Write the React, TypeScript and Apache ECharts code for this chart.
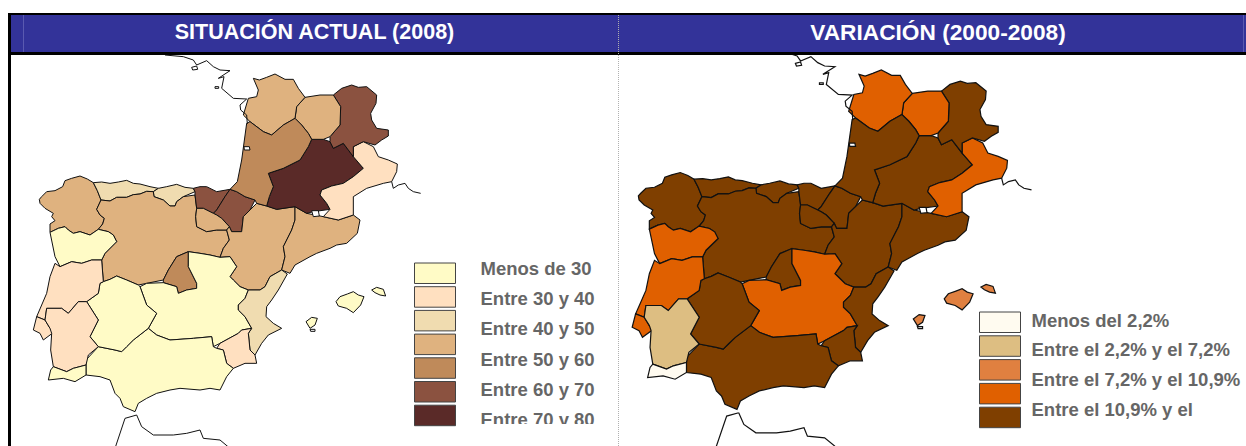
import React, { useEffect, useRef } from "react";
import * as echarts from "echarts";

type Pt = number[];

// Outlines (units: one third of a screen pixel)
const galicia: Pt[] = [[118,598],[125,590],[140,575],[165,572],[188,560],[195,542],[215,535],[240,528],[262,537],[280,548],[292,572],[303,600],[290,628],[300,645],[313,655],[308,672],[295,688],[270,705],[240,695],[220,700],[205,690],[195,680],[175,685],[150,697],[150,672],[165,662],[155,650],[160,640],[135,625],[120,610]];
const asturias: Pt[] = [[280,548],[305,546],[330,550],[355,546],[380,541],[400,550],[420,552],[450,560],[475,565],[460,575],[440,574],[420,582],[400,584],[380,592],[350,592],[330,603],[303,600],[292,572]];
const cantabria: Pt[] = [[475,565],[500,560],[530,553],[555,562],[580,565],[585,575],[550,590],[530,605],[525,618],[510,618],[490,600],[462,590],[460,575]];
const castillaLeon: Pt[] = [[303,600],[330,603],[350,592],[380,592],[400,584],[420,582],[440,574],[460,575],[462,590],[490,600],[510,618],[525,618],[530,605],[550,590],[585,585],[590,625],[587,650],[590,680],[620,695],[650,690],[680,690],[688,720],[670,745],[660,772],[630,765],[600,760],[565,755],[530,770],[505,810],[490,840],[465,845],[440,850],[415,855],[380,840],[350,828],[330,838],[310,845],[305,780],[315,760],[350,725],[340,705],[325,695],[295,688],[308,672],[313,655],[300,645],[290,628]];
const euskadi: Pt[] = [[580,565],[600,560],[620,560],[650,575],[690,568],[675,590],[650,630],[640,640],[610,625],[590,625],[585,585],[585,575]];
const navarra: Pt[] = [[690,568],[710,575],[735,590],[765,600],[750,630],[730,650],[725,695],[695,695],[688,680],[665,655],[650,645],[640,640],[650,630],[675,590]];
const rioja: Pt[] = [[590,625],[610,625],[640,640],[650,645],[665,655],[688,680],[680,690],[650,690],[620,695],[590,680],[587,650]];
const aragon: Pt[] = [[725,695],[730,650],[750,630],[770,610],[800,618],[830,628],[885,620],[885,660],[875,690],[850,740],[855,770],[845,810],[810,830],[795,860],[780,870],[745,870],[720,860],[700,840],[690,830],[710,800],[690,770],[660,772],[670,745],[688,720],[680,690],[688,680],[695,695]];
const cataluna: Pt[] = [[885,620],[920,640],[970,650],[1015,660],[1060,645],[1080,660],[1072,700],[1040,730],[1010,735],[990,745],[950,760],[930,770],[885,795],[870,820],[845,810],[855,770],[850,740],[875,690],[885,660]];
const midiPyrenees: Pt[] = [[935,418],[970,418],[990,425],[1000,445],[1030,430],[1045,450],[1060,470],[1090,505],[1060,530],[1030,550],[995,558],[965,570],[960,585],[980,610],[990,628],[940,635],[920,640],[885,620],[830,628],[800,618],[808,590],[820,560],[805,520],[850,505],[900,480],[925,440]];
const languedoc: Pt[] = [[1060,440],[1090,425],[1120,440],[1135,470],[1165,480],[1192,492],[1190,515],[1175,545],[1150,550],[1100,565],[1060,590],[1060,645],[1015,660],[970,650],[990,628],[980,610],[960,585],[965,570],[995,558],[1030,550],[1060,530],[1090,505],[1060,470]];
const rhoneAlpes: Pt[] = [[1000,285],[1025,265],[1055,255],[1075,262],[1100,260],[1130,285],[1128,310],[1112,340],[1115,360],[1130,385],[1165,390],[1165,408],[1145,420],[1125,435],[1090,425],[1060,440],[1060,470],[1045,450],[1030,430],[1000,445],[990,425],[990,410],[1020,375],[1022,320]];
const limousin: Pt[] = [[915,292],[960,285],[1000,285],[1022,320],[1020,375],[990,410],[970,418],[935,418],[925,400],[905,375],[885,355],[890,320]];
const poitou: Pt[] = [[760,235],[778,240],[800,232],[825,222],[855,238],[880,238],[895,265],[915,292],[890,320],[885,355],[850,375],[815,405],[790,395],[750,365],[730,345],[745,295],[770,290],[775,270]];
const aquitaine: Pt[] = [[740,370],[750,365],[790,395],[815,405],[850,375],[885,355],[905,375],[925,400],[935,418],[925,440],[900,480],[850,505],[805,520],[820,560],[808,590],[800,618],[770,610],[765,600],[735,590],[710,575],[690,568],[712,545],[725,480]];
const madrid: Pt[] = [[530,770],[565,755],[565,800],[590,850],[590,865],[560,870],[535,880],[530,860],[490,848],[490,840],[505,810]];
const laMancha: Pt[] = [[565,755],[600,760],[630,765],[660,772],[690,770],[710,800],[690,830],[700,840],[720,860],[745,870],[735,895],[715,915],[715,930],[735,950],[755,985],[725,990],[715,1000],[660,1030],[640,1040],[635,1010],[580,1015],[510,1020],[470,1005],[445,985],[470,940],[440,915],[420,860],[440,850],[490,848],[530,860],[535,880],[560,870],[590,865],[590,850],[565,800]];
const valencia: Pt[] = [[780,870],[795,860],[810,830],[845,810],[862,822],[835,870],[815,900],[800,920],[798,950],[820,970],[845,985],[805,1005],[785,1030],[765,1065],[750,1050],[745,1000],[755,985],[735,950],[715,930],[715,915],[735,895],[745,870]];
const murcia: Pt[] = [[725,990],[755,985],[745,1000],[750,1050],[765,1065],[770,1090],[735,1090],[700,1105],[680,1090],[670,1050],[650,1045],[660,1030],[715,1000]];
const andalucia: Pt[] = [[445,985],[470,1005],[510,1020],[580,1015],[635,1010],[640,1040],[650,1045],[670,1050],[680,1090],[700,1105],[680,1130],[660,1170],[630,1165],[600,1170],[540,1165],[510,1170],[470,1180],[440,1195],[415,1210],[405,1235],[370,1220],[360,1195],[345,1180],[330,1140],[300,1130],[258,1125],[258,1080],[295,1040],[345,1050],[365,1055],[380,1040],[400,1020]];
const extremadura: Pt[] = [[350,828],[380,840],[415,855],[420,860],[440,915],[470,940],[445,985],[400,1020],[380,1040],[365,1055],[345,1050],[295,1040],[270,1010],[295,960],[260,905],[295,880],[300,850],[310,845],[330,838]];
const norte: Pt[] = [[150,697],[175,685],[195,680],[205,690],[220,700],[240,695],[270,705],[295,688],[325,695],[340,705],[350,725],[315,760],[305,780],[275,780],[245,790],[215,785],[180,800],[165,770]];
const centro: Pt[] = [[180,800],[215,785],[245,790],[275,780],[305,780],[310,845],[300,850],[295,880],[260,905],[235,905],[205,940],[185,925],[140,925],[135,960],[110,950],[125,915],[140,880],[150,830],[165,790]];
const lisboa: Pt[] = [[110,950],[135,960],[150,985],[178,985],[150,1005],[130,1020],[120,1000],[100,990]];
const alentejo: Pt[] = [[140,925],[185,925],[205,940],[235,905],[260,905],[295,960],[270,1010],[295,1040],[265,1065],[258,1095],[220,1105],[200,1115],[160,1100],[152,1050],[155,1000],[150,985],[135,960]];
const algarve: Pt[] = [[160,1100],[200,1115],[220,1105],[258,1095],[258,1125],[225,1145],[190,1135],[145,1140],[152,1110]];
const mallorca: Pt[] = [[1008,905],[1020,890],[1042,882],[1060,875],[1075,885],[1092,890],[1082,915],[1060,938],[1040,925],[1015,918]];
const menorca: Pt[] = [[1115,870],[1130,862],[1150,868],[1157,888],[1140,885],[1125,878]];
const ibiza: Pt[] = [[918,965],[935,952],[952,955],[945,975],[930,985]];
const formentera: Pt[] = [[930,988],[945,988],[945,994],[932,994]];
const andorra: Pt[] = [[935,632],[955,632],[958,648],[940,650]];
const lake: Pt[] = [[732,440],[748,440],[750,450],[733,450]];
const islet1: Pt[] = [[575,202],[590,198],[593,208],[578,210]];
const islet2: Pt[] = [[645,260],[656,260],[656,265],[645,265]];

const atlanticCoast: Pt[] = [[495,165],[550,170],[580,180],[590,195],[620,182],[640,200],[660,210],[690,212],[655,235],[672,230],[665,265],[700,295],[740,297],[720,315],[722,330],[740,345],[742,372]];
const gulfCoast: Pt[] = [[1175,545],[1180,565],[1195,555],[1215,550],[1225,565],[1240,575],[1262,580]];
const ceutaLine: Pt[] = [[345,1345],[375,1255],[410,1245]];
const moroccoCoast: Pt[] = [[410,1245],[425,1280],[460,1305],[520,1305],[560,1300],[600,1290],[610,1315],[660,1320],[690,1345]];

const regionOutlines: [string, Pt[]][] = [
  ["Galicia", galicia], ["Asturias", asturias], ["Cantabria", cantabria], ["Castilla y León", castillaLeon],
  ["País Vasco", euskadi], ["Navarra", navarra], ["La Rioja", rioja], ["Aragón", aragon], ["Cataluña", cataluna],
  ["Midi-Pyrénées", midiPyrenees], ["Languedoc", languedoc], ["Rhône-Alpes", rhoneAlpes], ["Limousin", limousin],
  ["Poitou", poitou], ["Aquitaine", aquitaine], ["Madrid", madrid], ["Castilla-La Mancha", laMancha],
  ["Valencia", valencia], ["Murcia", murcia], ["Andalucía", andalucia], ["Extremadura", extremadura],
  ["Norte", norte], ["Centro", centro], ["Lisboa", lisboa], ["Alentejo", alentejo], ["Algarve", algarve],
  ["Mallorca", mallorca], ["Menorca", menorca], ["Ibiza", ibiza], ["Formentera", formentera],
  ["Andorra", andorra], ["Lago", lake], ["Islote 1", islet1], ["Islote 2", islet2],
];
const coastLines: [string, Pt[]][] = [
  ["c1", atlanticCoast], ["c2", gulfCoast], ["c3", ceutaLine], ["c4", moroccoCoast],
];

const regionNames = ["Galicia","Asturias","Cantabria","Castilla y León","País Vasco","Navarra","La Rioja","Aragón","Cataluña","Midi-Pyrénées","Languedoc","Rhône-Alpes","Limousin","Poitou","Aquitaine","Madrid","Castilla-La Mancha","Valencia","Murcia","Andalucía","Extremadura","Norte","Centro","Lisboa","Alentejo","Algarve","Mallorca","Menorca","Ibiza"];
const situacion = [55,45,45,55,75,75,55,55,55,85,35,75,55,55,65,65,25,45,35,25,25,25,35,35,35,25,25,25,25];
const variacion = [18,18,18,18,18,18,18,18,18,18,12,18,12,12,18,18,12,18,18,18,18,12,12,12,5,1.5,9,9,9];

const situacionBreaks = [30,40,50,60,70,80];
const variacionBreaks = [2.2,7.2,10.9,15];
const situacionColors = ["#FFFBC6","#FFE0C0","#F0DCB0","#DFB27F","#BF8A5A","#8B5240","#5A2A28"];
const variacionColors = ["#FFFBF0","#DDBE82","#E08040","#E06000","#7F3F00"];
const situacionLabels = ["Menos de 30","Entre 30 y 40","Entre 40 y 50","Entre 50 y 60","Entre 60 y 70","Entre 70 y 80"];
const variacionLabels = ["Menos del 2,2%","Entre el 2,2% y el 7,2%","Entre el 7,2% y el 10,9%","Entre el 10,9% y el"];
const titles = ["SITUACIÓN ACTUAL (2008)","VARIACIÓN (2000-2008)"];

const pieces = (breaks: number[], colors: string[]) =>
  colors.map((color, i) => ({
    ...(i > 0 ? { gte: breaks[i - 1] } : {}),
    ...(i < breaks.length ? { lt: breaks[i] } : {}),
    color,
  }));

const geoJson = {
  type: "FeatureCollection",
  features: [
    ...regionOutlines.map(([name, ring]) => ({
      type: "Feature", properties: { name },
      geometry: { type: "Polygon", coordinates: [[...ring, ring[0]]] },
    })),
    ...coastLines.map(([name, line]) => ({
      type: "Feature", properties: { name },
      geometry: { type: "LineString", coordinates: line },
    })),
  ],
};

const allPts = [...regionOutlines, ...coastLines].flatMap(([, p]) => p);
const xMin = Math.min(...allPts.map((p) => p[0]));
const xMax = Math.max(...allPts.map((p) => p[0]));
const yMin = Math.min(...allPts.map((p) => p[1]));
const yMax = Math.max(...allPts.map((p) => p[1]));

const legendGraphics = (
  colors: string[], labels: string[], swatchX: number, swatchW: number, swatchTop: number, swatchPitch: number,
  swatchH: number, textX: number, textTop: number, textPitch: number,
) => [
  ...colors.map((fill, i) => ({
    type: "rect", shape: { x: swatchX, y: swatchTop + i * swatchPitch, width: swatchW, height: swatchH },
    style: { fill, stroke: "#444", lineWidth: 1 },
  })),
  ...labels.map((text, i) => ({
    type: "text", x: textX, y: textTop + i * textPitch,
    style: { text, fill: "#666", font: "bold 18.5px 'Liberation Sans'", textVerticalAlign: "middle" },
  })),
];

export default function App() {
  const ref = useRef<HTMLDivElement>(null);
  useEffect(() => {
    echarts.registerMap("iberiaActual", geoJson as any);
    echarts.registerMap("iberiaVariacion", geoJson as any);
    const chart = echarts.init(ref.current!, null, { renderer: "svg" });
    const kx = 1.031 / 1.005;
    const mapSeries = (map: string, values: number[], left: number, top: number, width: number, height: number, projX: number, lw: number) => ({
      type: "map", map, left, top, width, height, silent: true, selectedMode: false,
      projection: { project: (p: number[]) => [p[0] * projX, p[1]], unproject: (p: number[]) => [p[0] / projX, p[1]] },
      label: { show: false }, emphasis: { disabled: true },
      itemStyle: { areaColor: "#fff", borderColor: "#111", borderWidth: lw },
      data: regionNames.map((name, i) => ({ name, value: values[i] })),
    });
    chart.setOption({
      animation: false,
      visualMap: [
        { type: "piecewise", show: false, seriesIndex: 0, pieces: pieces(situacionBreaks, situacionColors) },
        { type: "piecewise", show: false, seriesIndex: 1, pieces: pieces(variacionBreaks, variacionColors) },
      ],
      series: [
        mapSeries("iberiaActual", situacion, xMin / 3, yMin / 3, (xMax - xMin) / 3, (yMax - yMin) / 3, 1, 1),
        mapSeries("iberiaVariacion", variacion, 597.8 + (1.031 * xMin) / 3, (208 + (yMin - 220) * 1.005) / 3, (1.031 * (xMax - xMin)) / 3, (1.005 * (yMax - yMin)) / 3, kx, 1.2),
      ],
      graphic: [
        { type: "rect", z: 10, shape: { x: 8, y: 13, width: 1238, height: 2 }, style: { fill: "#000" } },
        { type: "rect", z: 10, shape: { x: 8, y: 15, width: 1238, height: 37 }, style: { fill: "#333399" } },
        { type: "rect", z: 10, shape: { x: 8, y: 52, width: 1238, height: 3 }, style: { fill: "#000" } },
        { type: "rect", z: 10, shape: { x: 8, y: 13, width: 3, height: 433 }, style: { fill: "#000" } },
        { type: "line", z: 11, shape: { x1: 23.5, y1: 15, x2: 23.5, y2: 52 }, style: { stroke: "#5A5AB0", lineWidth: 1 } },
        { type: "line", z: 11, shape: { x1: 1243.5, y1: 15, x2: 1243.5, y2: 52 }, style: { stroke: "#5A5AB0", lineWidth: 1 } },
        { type: "line", z: 11, shape: { x1: 618.5, y1: 15, x2: 618.5, y2: 446 }, style: { stroke: "#B0B0B0", lineWidth: 1, lineDash: [1, 1] } },
        { type: "text", z: 12, x: 314.5, y: 32, style: { text: titles[0], fill: "#fff", font: "bold 21.5px 'Liberation Sans'", textAlign: "center", textVerticalAlign: "middle" } },
        { type: "text", z: 12, x: 938, y: 32, style: { text: titles[1], fill: "#fff", font: "bold 22.7px 'Liberation Sans'", textAlign: "center", textVerticalAlign: "middle" } },
        ...legendGraphics(situacionColors, situacionLabels, 414.5, 41, 263, 23.7, 20.5, 480.5, 268.5, 30.2).map((g) => ({ ...g, z: 5 })),
        { type: "rect", z: 6, shape: { x: 470, y: 424, width: 130, height: 22 }, style: { fill: "#fff" } },
        ...legendGraphics(variacionColors, variacionLabels, 979.5, 41, 312, 23.8, 20.5, 1031.5, 320, 29.7).map((g) => ({ ...g, z: 5 })),
      ],
    });
    return () => chart.dispose();
  }, []);
  return <div ref={ref} style={{ position: "fixed", left: 0, top: 0, width: 1246, height: 446, background: "#fff" }} />;
}
